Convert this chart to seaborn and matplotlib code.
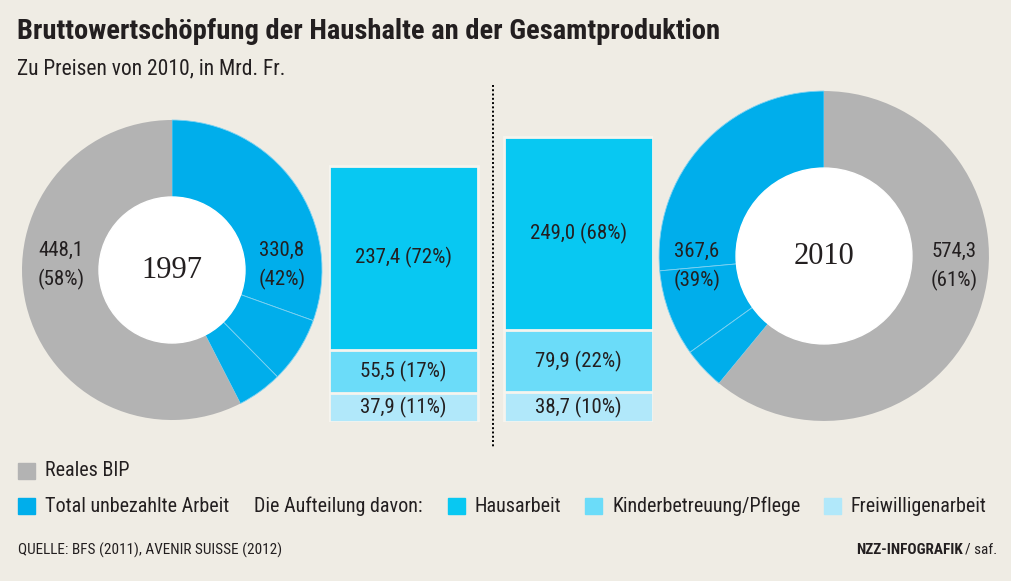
import numpy as np
import matplotlib.pyplot as plt
import seaborn as sns
from matplotlib.patches import Rectangle, Circle
from matplotlib.lines import Line2D

# data (Mrd. Fr., Preise 2010)
years = ["1997", "2010"]
bip = [448.1, 574.3]
unpaid = [330.8, 367.6]
bip_pct = [58, 61]
unpaid_pct = [42, 39]
haus = [237.4, 249.0]
kinder = [55.5, 79.9]
freiw = [37.9, 38.7]
haus_pct = [72, 68]
kinder_pct = [17, 22]
freiw_pct = [11, 10]

C_BG = "#EFECE4"
C_GRAY = "#B3B3B3"
C_TOTAL = "#00AEEB"
C_HAUS = "#08C8F2"
C_KINDER = "#6BDCF9"
C_FREIW = "#B1E8FA"
C_TEXT = "#231F20"

sns.set_theme(style="white")
plt.rcParams["font.family"] = ["Roboto Condensed", "DejaVu Sans"]
plt.rcParams["text.color"] = C_TEXT

W, H = 1011, 581
fig = plt.figure(figsize=(W / 100, H / 100), dpi=100, facecolor=C_BG)


def fx(px):
    return px / W


def fy(py):
    return 1 - py / H


def fmt(v):
    return f"{v:.1f}".replace(".", ",")


# title
fig.text(fx(17), fy(39), "Bruttowertschöpfung der Haushalte an der Gesamtproduktion",
         fontsize=20.5, fontweight="bold", va="baseline")
fig.text(fx(17), fy(74), "Zu Preisen von 2010, in Mrd. Fr.", fontsize=15.5, va="baseline")

# donuts, area proportional to total
totals = [b + u for b, u in zip(bip, unpaid)]
r1 = 150
radii = [r1, r1 * np.sqrt(totals[1] / totals[0])]
centers = [(172, 270), (824, 256)]
ring = 77

for i in range(2):
    cx, cy = centers[i]
    r = radii[i]
    ax = fig.add_axes([fx(cx - r), fy(cy + r), 2 * r / W, 2 * r / H])
    vals = [haus[i], kinder[i], freiw[i], bip[i]]
    wedges, _ = ax.pie(vals, startangle=90, counterclock=(i == 1),
                       colors=[C_TOTAL] * 3 + [C_GRAY], radius=1,
                       wedgeprops=dict(linewidth=0))
    for w in wedges[:3]:
        w.set_edgecolor("#7FD2F2")
        w.set_linewidth(0.6)
    ax.add_patch(Circle((0, 0), 1 - ring / r, color="white", zorder=5))
    ax.set_xlim(-1, 1)
    ax.set_ylim(-1, 1)
    ax.axis("off")
    ax.text(0, 0, years[i], fontsize=22, family="Liberation Serif",
            ha="center", va="center", zorder=6)

# donut labels
lab = dict(fontsize=15, ha="center", va="center", linespacing=1.55)
fig.text(fx(61), fy(265), f"{fmt(bip[0])}\n({bip_pct[0]}%)", **lab)
fig.text(fx(282), fy(265), f"{fmt(unpaid[0])}\n({unpaid_pct[0]}%)", **lab)
fig.text(fx(697), fy(266), f"{fmt(unpaid[1])}\n({unpaid_pct[1]}%)", **lab)
fig.text(fx(954), fy(266), f"{fmt(bip[1])}\n({bip_pct[1]}%)", **lab)

# stacked bars of unpaid work
bw = 0.852
axb = fig.add_axes([fx(329), fy(422), (653 - 329) / W, (422 - 85) / H])
cum_top = [h + k + f for h, k, f in zip(haus, kinder, freiw)]
cum_mid = [k + f for k, f in zip(kinder, freiw)]
for vals, col in [(cum_top, C_HAUS), (cum_mid, C_KINDER), (freiw, C_FREIW)]:
    sns.barplot(x=years, y=vals, color=col, saturation=1, width=bw,
                edgecolor="#F6F4EE", linewidth=2, ax=axb)
axb.set_xlim(-bw / 2, 1 + bw / 2)
axb.set_ylim(0, 435)
axb.axis("off")
for i in range(2):
    axb.text(i, freiw[i] + kinder[i] + haus[i] / 2, f"{fmt(haus[i])} ({haus_pct[i]}%)",
             fontsize=15, ha="center", va="center")
    axb.text(i, freiw[i] + kinder[i] / 2, f"{fmt(kinder[i])} ({kinder_pct[i]}%)",
             fontsize=15, ha="center", va="center")
    axb.text(i, freiw[i] / 2, f"{fmt(freiw[i])} ({freiw_pct[i]}%)",
             fontsize=15, ha="center", va="center")

# dotted divider
fig.add_artist(Line2D([fx(493), fx(493)], [fy(85), fy(447)], color="black",
                      linestyle=(0, (1, 1.2)), linewidth=1.4))


# legend
def key(x, y, color, text):
    fig.add_artist(Rectangle((fx(x), fy(y + 8)), 17 / W, 16 / H, color=color))
    fig.text(fx(x + 27), fy(y), text, fontsize=14.5, va="center")


key(18, 471, C_GRAY, "Reales BIP")
key(18, 506, C_TOTAL, "Total unbezahlte Arbeit")
fig.text(fx(254), fy(506), "Die Aufteilung davon:", fontsize=14.5, va="center")
key(448, 506, C_HAUS, "Hausarbeit")
key(585, 506, C_KINDER, "Kinderbetreuung/Pflege")
key(824, 506, C_FREIW, "Freiwilligenarbeit")

# footer
fig.text(fx(18), fy(550), "QUELLE: BFS (2011), AVENIR SUISSE (2012)", fontsize=11, va="center")
fig.text(fx(963), fy(550), "NZZ-INFOGRAFIK", fontsize=11, fontweight="bold",
         ha="right", va="center")
fig.text(fx(997), fy(550), "/ saf.", fontsize=11, ha="right", va="center")

fig.savefig("out.png", dpi=100, facecolor=C_BG)
